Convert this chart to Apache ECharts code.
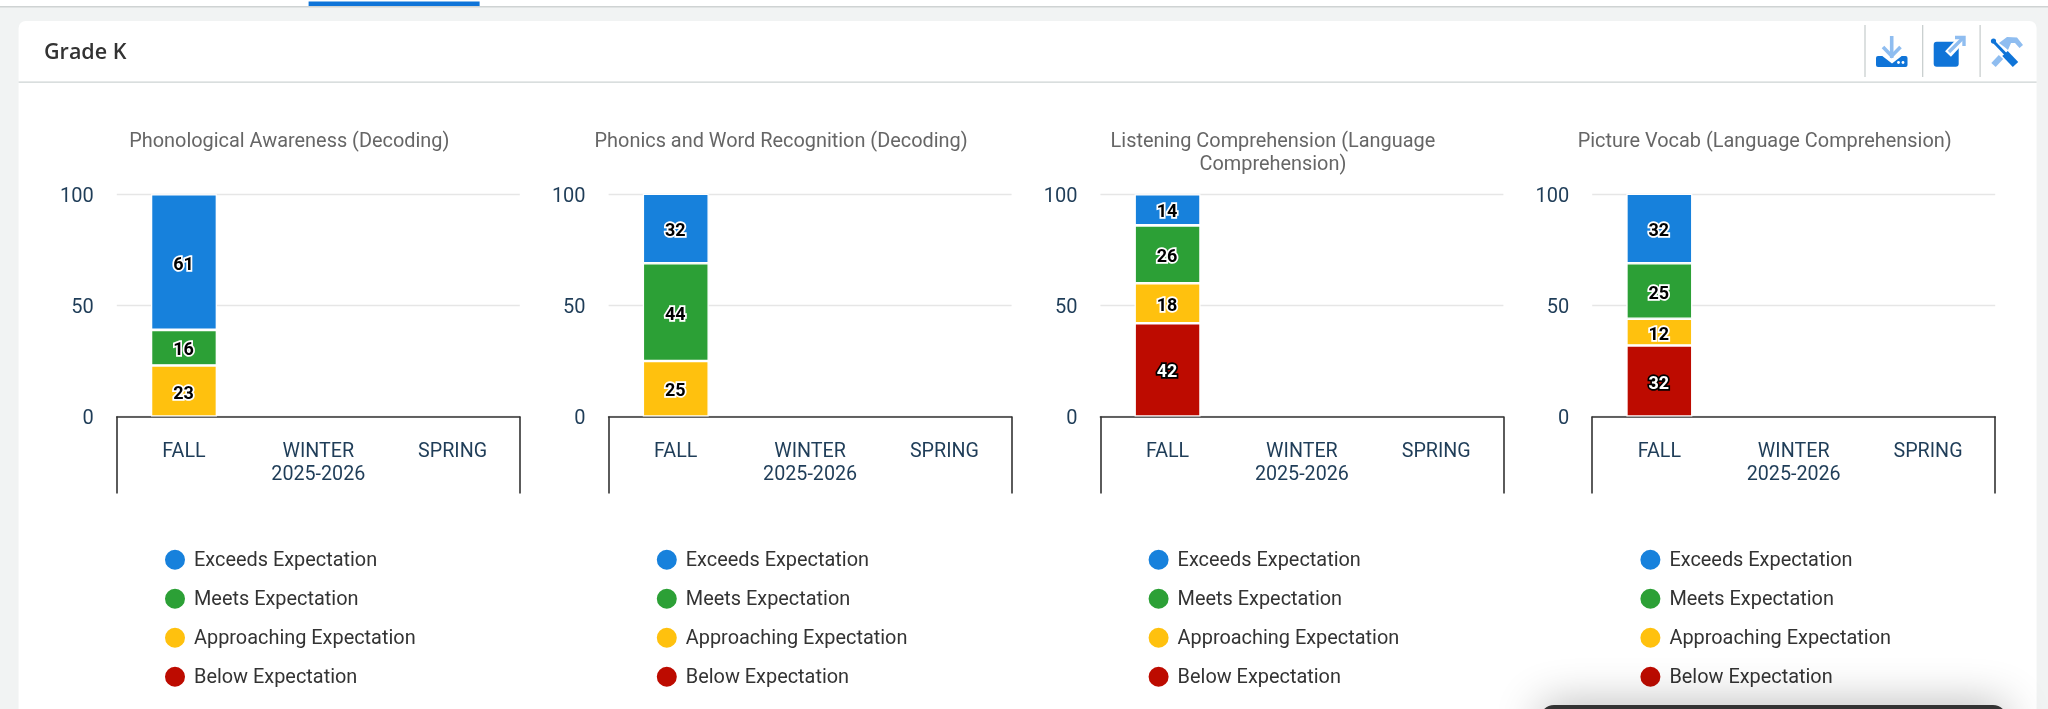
<!DOCTYPE html>
<html>
<head>
<meta charset="utf-8">
<style>html,body{margin:0;padding:0;background:#f1f3f3;overflow:hidden}#c{width:2048px;height:709px}</style>
<script src="https://cdn.jsdelivr.net/npm/echarts@6/dist/echarts.min.js"></script>
</head>
<body>
<div id="c"></div>
<script>
const categories = ['FALL', 'WINTER\n2025-2026', 'SPRING'];
const yTicks = [0, 50, 100];
const panelTitles = [
  'Phonological Awareness (Decoding)',
  'Phonics and Word Recognition (Decoding)',
  'Listening Comprehension (Language\nComprehension)',
  'Picture Vocab (Language Comprehension)'
];
const legendNames = ['Exceeds Expectation', 'Meets Expectation', 'Approaching Expectation', 'Below Expectation'];
const exceeds = [61, 32, 14, 32];
const meets = [16, 44, 26, 25];
const approaching = [23, 25, 18, 12];
const below = [null, null, 42, 32];

const colors = { exceeds: '#1781dc', meets: '#2ca036', approaching: '#ffc10e', below: '#bd0b00' };
const FONT = 'Roboto';
const step = 491.8, gridLeft0 = 116.8, gridW = 403, titleC0 = 284.3, legendL0 = 163;
const GT = 194.3, GH = 222.3;

const stackDefs = [
  { name: legendNames[3], vals: below, color: colors.below, text: '#fff', stroke: '#000' },
  { name: legendNames[2], vals: approaching, color: colors.approaching, text: '#000', stroke: '#fff' },
  { name: legendNames[1], vals: meets, color: colors.meets, text: '#000', stroke: '#fff' },
  { name: legendNames[0], vals: exceeds, color: colors.exceeds, text: '#000', stroke: '#fff' }
];

const grid = [], xAxis = [], yAxis = [], title = [], legend = [], series = [];
panelTitles.forEach((t, i) => {
  grid.push({ left: gridLeft0 + step * i, top: GT, width: gridW, height: GH, outerBoundsMode: 'none' });
  xAxis.push({
    type: 'category', gridIndex: i, data: categories,
    axisLine: { show: true, lineStyle: { color: '#333', width: 1.6 } },
    axisTick: { show: true, length: 77, interval: k => k === 0, lineStyle: { color: '#333', width: 1.6 } },
    axisLabel: { interval: 0, color: '#1f3d58', fontFamily: FONT, fontSize: 19.7, lineHeight: 23, margin: 24 }
  });
  yAxis.push({
    type: 'value', gridIndex: i, min: 0, max: 100, interval: 50,
    axisLine: { show: false }, axisTick: { show: false },
    splitLine: { lineStyle: { color: '#e6e6e6', width: 1.3 } },
    axisLabel: { color: '#1f3d58', fontFamily: FONT, fontSize: 20, margin: 23, verticalAlign: 'top', lineHeight: 5,
      customValues: yTicks }
  });
  title.push({
    text: t, left: titleC0 + step * i, top: 125.5, textAlign: 'center',
    textStyle: { color: '#666', fontFamily: FONT, fontWeight: 400, fontSize: 19.9, lineHeight: 23 }
  });
  legend.push({
    orient: 'vertical', left: legendL0 + step * i, top: 547.8, itemWidth: 22, itemHeight: 22,
    itemGap: 15, selectedMode: false, icon: 'circle', data: legendNames.slice(),
    padding: 0, formatter: n => '{t|' + n + '}',
    textStyle: { rich: { t: { color: '#333', fontFamily: FONT, fontSize: 19.9, lineHeight: 22, padding: [3, 0, 0, 3] } } }
  });
  stackDefs.forEach(d => {
    series.push({
      type: 'bar', name: d.name, xAxisIndex: i, yAxisIndex: i, stack: 'panel' + i, barWidth: 66,
      data: [d.vals[i], null, null],
      itemStyle: { color: d.color, borderColor: '#fff', borderWidth: 1.3 },
      label: { show: true, position: 'inside', offset: [-0.5, 3], formatter: p => p.value == null ? '' : p.value,
        color: d.text, textBorderColor: d.stroke, textBorderWidth: 3.4,
        fontFamily: FONT, fontWeight: 'bold', fontSize: 18 }
    });
  });
});

const LIGHT = '#8fbdf0', DARK = '#0f74d8';
const line = (pts, color, w) => ({ type: 'polyline', shape: { points: pts }, style: { stroke: color, lineWidth: w, fill: null } });
const graphic = [
  { type: 'rect', z: -10, shape: { x: 0, y: 0, width: 2048, height: 6 }, style: { fill: '#fff' } },
  { type: 'rect', z: -9, shape: { x: 0, y: 6, width: 2048, height: 1.5 }, style: { fill: '#cfd3d3' } },
  { type: 'rect', z: -8, shape: { x: 308.6, y: 1.5, width: 171, height: 4.5 }, style: { fill: DARK } },
  { type: 'rect', z: -8, shape: { x: 18.6, y: 21, width: 2018, height: 720, r: 7 }, style: { fill: '#fff' } },
  { type: 'rect', z: -7, shape: { x: 18.6, y: 81.5, width: 2018, height: 1.2 }, style: { fill: '#cdd3d3' } },
  { type: 'text', style: { text: 'Grade K', x: 44, y: 52.5, verticalAlign: 'middle', font: '600 21.5px "Open Sans"', fill: '#333' } },
  { type: 'rect', shape: { x: 1864.4, y: 25, width: 1.2, height: 52 }, style: { fill: '#c5cbcb' } },
  { type: 'rect', shape: { x: 1922.1, y: 25, width: 1.2, height: 52 }, style: { fill: '#c5cbcb' } },
  { type: 'rect', shape: { x: 1979.5, y: 25, width: 1.2, height: 52 }, style: { fill: '#c5cbcb' } },
  // download icon
  { type: 'rect', shape: { x: 1876, y: 56, width: 31.5, height: 11, r: 2 }, style: { fill: DARK } },
  { type: 'polygon', shape: { points: [[1881, 55], [1892, 63.5], [1903, 55]] }, style: { fill: '#fff' } },
  line([[1891.7, 36], [1891.7, 58]], LIGHT, 3.6),
  line([[1883, 47], [1891.7, 56], [1900.5, 47]], LIGHT, 3.6),
  { type: 'circle', shape: { cx: 1898.5, cy: 62.5, r: 1.4 }, style: { fill: '#fff' } },
  { type: 'circle', shape: { cx: 1903, cy: 62.5, r: 1.4 }, style: { fill: '#fff' } },
  // open icon
  { type: 'rect', shape: { x: 1933.7, y: 41.7, width: 25, height: 25, r: 3 }, style: { fill: DARK } },
  line([[1948, 54], [1962, 39]], '#fff', 8),
  line([[1949, 52], [1963, 38]], LIGHT, 3.4),
  line([[1955, 37.5], [1964, 37.5], [1964, 46]], LIGHT, 3.4),
  // tools icon
  line([[1993.5, 65], [2001, 57]], LIGHT, 6),
  { type: 'polygon', shape: { points: [[1999, 43], [2007, 37], [2017, 37.5], [2023, 45], [2019.5, 48], [2015, 43], [2011, 43], [2008, 50], [2004.5, 47]] }, style: { fill: LIGHT } },
  { type: 'circle', shape: { cx: 1993.5, cy: 41, r: 2.6 }, style: { fill: DARK } },
  line([[1993.5, 41.5], [2006, 54.5]], DARK, 3),
  line([[2005, 53.5], [2015.5, 64.5]], DARK, 7.5),
  // floating bar at the bottom
  { type: 'rect', z: 5, shape: { x: 1540, y: 705, width: 467, height: 40, r: 14 },
    style: { fill: '#333', shadowBlur: 45, shadowColor: 'rgba(0,0,0,0.3)' } }
];

const chart = echarts.init(document.getElementById('c'), null, { renderer: 'canvas', width: 2048, height: 709 });
chart.setOption({ animation: false, backgroundColor: '#f1f3f3', grid, xAxis, yAxis, title, legend, series, graphic });
</script>
</body>
</html>
